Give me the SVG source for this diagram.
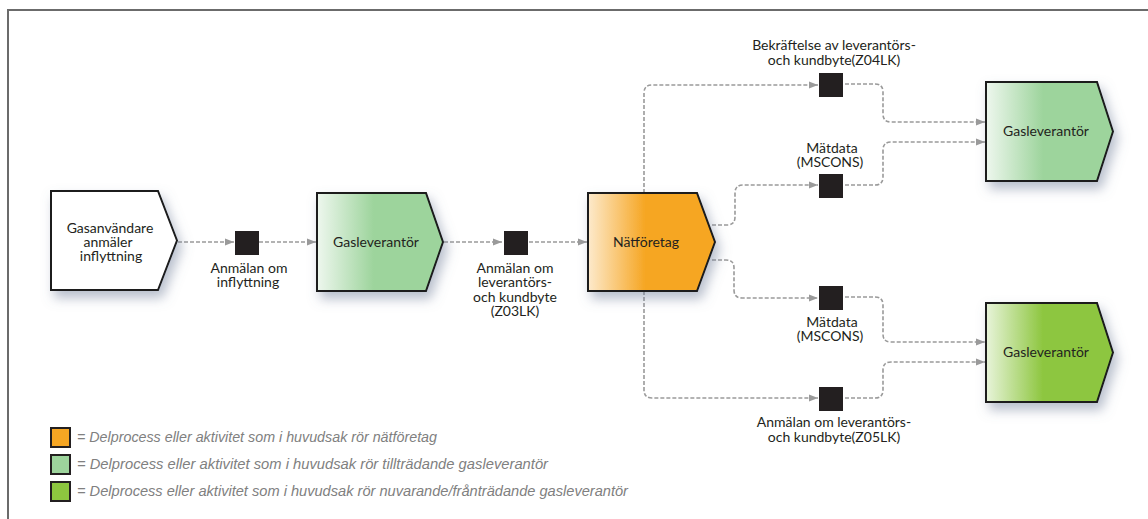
<svg xmlns="http://www.w3.org/2000/svg" width="1148" height="519" viewBox="0 0 1148 519">
  <defs>
    <linearGradient id="gLight" x1="0" y1="0" x2="1" y2="0">
      <stop offset="0" stop-color="#eef7ee"/>
      <stop offset="0.45" stop-color="#9dd49c"/>
      <stop offset="1" stop-color="#9dd49c"/>
    </linearGradient>
    <linearGradient id="gOrange" x1="0" y1="0" x2="1" y2="0">
      <stop offset="0" stop-color="#fdeacc"/>
      <stop offset="0.45" stop-color="#f6a623"/>
      <stop offset="1" stop-color="#f6a623"/>
    </linearGradient>
    <linearGradient id="gGreen" x1="0" y1="0" x2="1" y2="0">
      <stop offset="0" stop-color="#e8f4da"/>
      <stop offset="0.45" stop-color="#8dc63f"/>
      <stop offset="1" stop-color="#8dc63f"/>
    </linearGradient>
    <filter id="shadow" x="-20%" y="-20%" width="150%" height="160%">
      <feDropShadow dx="4" dy="7" stdDeviation="6" flood-color="#6f7f99" flood-opacity="0.5"/>
    </filter>
    <marker id="arrow" markerUnits="userSpaceOnUse" markerWidth="9" markerHeight="8" refX="9" refY="4" orient="auto">
      <path d="M0,0.5 L9,4 L0,7.5 z" fill="#9a9a9a"/>
    </marker>
  </defs>
  <style>
    .node { stroke: #1a1a1a; stroke-width: 2; filter: url(#shadow); }
    .msg { fill: #231f20; }
    .conn { fill: none; stroke: #9a9a9a; stroke-width: 1.6; stroke-dasharray: 4 2; marker-end: url(#arrow); }
    .label { font-family: Lato, "Open Sans", sans-serif; font-size: 14px; fill: #231f20; text-anchor: middle; }
    .legend { font-family: "Liberation Sans", Arial, sans-serif; font-size: 14px; font-style: italic; fill: #808080; }
    .key { stroke: #231f20; stroke-width: 2; }
  </style>

  <rect width="1148" height="519" fill="#ffffff"/>
  <!-- frame -->
  <path d="M8,519 V10 H1148" fill="none" stroke="#6b6b6b" stroke-width="2"/>

  <!-- connectors -->
  <g id="connectors">
    <path class="conn" d="M178,242 H234"/>
    <path class="conn" d="M259,242 H316"/>
    <path class="conn" d="M444,242 H502"/>
    <path class="conn" d="M529,242 H587"/>
    <path class="conn" d="M644,193 V93 Q644,85 652,85 H818"/>
    <path class="conn" d="M712,225 H727 Q735,225 735,217 V193 Q735,185 743,185 H818"/>
    <path class="conn" d="M712,260 H726 Q734,260 734,268 V290 Q734,298 742,298 H818"/>
    <path class="conn" d="M644,291 V390 Q644,398 652,398 H818"/>
    <path class="conn" d="M845,84 H875 Q883,84 883,92 V114 Q883,122 891,122 H985"/>
    <path class="conn" d="M845,185 H875 Q883,185 883,177 V150 Q883,142 891,142 H985"/>
    <path class="conn" d="M845,297 H875 Q883,297 883,305 V334 Q883,342 891,342 H985"/>
    <path class="conn" d="M845,398 H875 Q883,398 883,390 V370 Q883,362 891,362 H985"/>
  </g>

  <!-- process nodes -->
  <g id="node-gasanvandare">
    <polygon class="node" points="51,191 158,191 177,240.5 158,290 51,290" fill="#ffffff"/>
    <text class="label" x="110" y="233">Gasanvändare</text>
    <text class="label" x="108" y="247">anmäler</text>
    <text class="label" x="111" y="261">inflyttning</text>
  </g>
  <g id="node-gasleverantor-tilltradande">
    <polygon class="node" points="317,193 426,193 443,242 426,291 317,291" fill="url(#gLight)"/>
    <text class="label" x="376" y="247">Gasleverantör</text>
  </g>
  <g id="node-natforetag">
    <polygon class="node" points="588,193 697,193 715,242 697,291 588,291" fill="url(#gOrange)"/>
    <text class="label" x="646" y="247">Nätföretag</text>
  </g>
  <g id="node-gasleverantor-top">
    <polygon class="node" points="986,82 1097,82 1113,131.5 1097,181 986,181" fill="url(#gLight)"/>
    <text class="label" x="1046" y="136">Gasleverantör</text>
  </g>
  <g id="node-gasleverantor-bottom">
    <polygon class="node" points="986,303 1097,303 1113,352.5 1097,402 986,402" fill="url(#gGreen)"/>
    <text class="label" x="1046" y="357">Gasleverantör</text>
  </g>

  <!-- messages -->
  <g id="msg-inflyttning">
    <rect class="msg" x="235" y="231" width="24" height="24"/>
    <text class="label" x="249" y="273">Anmälan om</text>
    <text class="label" x="248" y="287">inflyttning</text>
  </g>
  <g id="msg-z03lk">
    <rect class="msg" x="504" y="231" width="24" height="24"/>
    <text class="label" x="515" y="273">Anmälan om</text>
    <text class="label" x="515" y="287">leverantörs-</text>
    <text class="label" x="515" y="302">och kundbyte</text>
    <text class="label" x="515" y="316">(Z03LK)</text>
  </g>
  <g id="msg-z04lk">
    <rect class="msg" x="819" y="73" width="24" height="24"/>
    <text class="label" x="834" y="50">Bekräftelse av leverantörs-</text>
    <text class="label" x="834" y="65">och kundbyte(Z04LK)</text>
  </g>
  <g id="msg-mscons-top">
    <rect class="msg" x="819" y="174" width="24" height="24"/>
    <text class="label" x="832" y="153">Mätdata</text>
    <text class="label" x="830" y="167">(MSCONS)</text>
  </g>
  <g id="msg-mscons-bottom">
    <rect class="msg" x="819" y="286" width="24" height="24"/>
    <text class="label" x="832" y="327">Mätdata</text>
    <text class="label" x="830" y="341">(MSCONS)</text>
  </g>
  <g id="msg-z05lk">
    <rect class="msg" x="819" y="387" width="24" height="24"/>
    <text class="label" x="834" y="427">Anmälan om leverantörs-</text>
    <text class="label" x="834" y="442">och kundbyte(Z05LK)</text>
  </g>

  <!-- legend -->
  <g id="legend">
    <rect class="key" x="51" y="428" width="19" height="19" fill="#f6a623"/>
    <text class="legend" x="77" y="442" textLength="360" lengthAdjust="spacingAndGlyphs">= Delprocess eller aktivitet som i huvudsak rör nätföretag</text>
    <rect class="key" x="51" y="455" width="19" height="19" fill="#9dd49c"/>
    <text class="legend" x="77" y="469" textLength="471" lengthAdjust="spacingAndGlyphs">= Delprocess eller aktivitet som i huvudsak rör tillträdande gasleverantör</text>
    <rect class="key" x="51" y="482" width="19" height="19" fill="#8dc63f"/>
    <text class="legend" x="77" y="496" textLength="551" lengthAdjust="spacingAndGlyphs">= Delprocess eller aktivitet som i huvudsak rör nuvarande/frånträdande gasleverantör</text>
  </g>
</svg>
